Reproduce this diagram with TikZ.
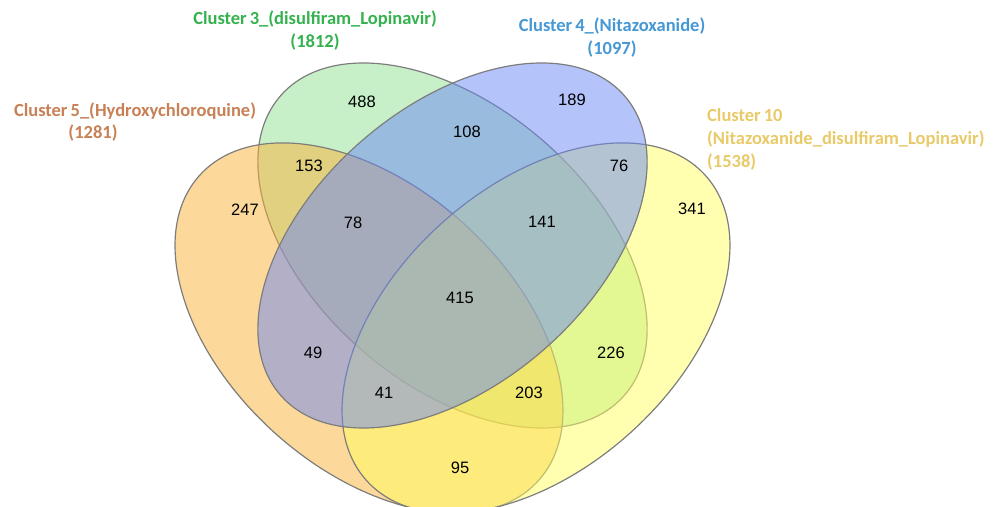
\documentclass[tikz,border=0pt]{standalone}
\usepackage{fontspec}
\setmainfont{Liberation Sans}
\newfontfamily\labelfont{Carlito}
\usetikzlibrary{positioning}
\definecolor{setgreen}{RGB}{145,225,145}
\definecolor{setorange}{RGB}{251,177,55}
\definecolor{setyellow}{RGB}{255,255,95}
\definecolor{setblue}{RGB}{105,135,245}
\definecolor{txtgreen}{RGB}{52,178,78}
\definecolor{txtblue}{RGB}{70,152,212}
\definecolor{txtbrown}{RGB}{200,128,86}
\definecolor{txtyellow}{RGB}{232,202,104}
\definecolor{rimgray}{RGB}{125,125,125}

\begin{document}
\begin{tikzpicture}[x=1pt, y=1pt,
      venn/.style={draw=rimgray, line width=1.2pt, fill opacity=0.5},
      num/.style={font=\fontsize{16.5}{19}\selectfont, inner sep=0pt},
      title/.style={font=\labelfont\bfseries\fontsize{18.5}{23}\selectfont,
                    inner sep=0pt}
    ]
    \useasboundingbox (0,0) rectangle (1001,506);
    \clip (0,0) rectangle (1001,506);

    % the four sets, drawn in this order
    \coordinate (cin) at (452.5,260.5);
    \coordinate (cleft) at (369,178);
    \coordinate (cright) at (536,178);
    \draw[venn, fill=setgreen, rotate around={-41:(cin)}]
          (cin) ellipse [x radius=228, y radius=138.5];
    \draw[venn, fill=setorange, rotate around={-42:(cleft)}]
          (cleft) ellipse [x radius=228, y radius=141];
    \draw[venn, fill=setyellow, rotate around={42:(cright)}]
          (cright) ellipse [x radius=228, y radius=141];
    \draw[venn, fill=setblue, rotate around={41:(cin)}]
          (cin) ellipse [x radius=228, y radius=138.5];

    % region counts
    \foreach \n/\x/\y in {488/362/404, 108/467/374, 189/572/406,
                          153/309/340, 76/619/340, 247/245/296,
                          78/353/283, 141/542/284, 341/692/297,
                          415/460/208, 49/313/153, 226/611/153,
                          41/384/113, 203/529/113, 95/460/38}{
      \node[num] (n\n) at (\x,\y) {\n};
    }

    % set titles
    \node[title, text=txtgreen, align=center] (t3) at (315,475)
          {Cluster\,3\_(disulfiram\_Lopinavir)\\(1812)};
    \node[title, text=txtblue, align=center] (t4) at (612,468)
          {Cluster\,4\_(Nitazoxanide)\\(1097)};
    \node[title, text=txtbrown] (t5) at (135,395)
          {Cluster\,5\_(Hydroxychloroquine)};
    \node[title, text=txtbrown] (t5n) at (93,373) {(1281)};
    \node[title, text=txtyellow, align=left, anchor=west] (t10) at (707,367)
          {Cluster\,10\\(Nitazoxanide\_disulfiram\_Lopinavir)\\(1538)};
\end{tikzpicture}
\end{document}
